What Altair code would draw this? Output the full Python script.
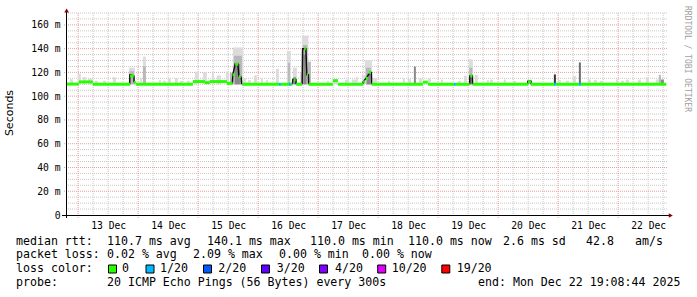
import altair as alt
import pandas as pd

# ---------------- data ----------------
# x = hours since 12 Dec 2025 00:00 ; window ends Mon Dec 22 19:08:44
T_START = 19.146
T_END = 259.146

# median rtt (ms), piecewise constant, with loss class
med_t0 = [19.15, 24.3, 29.9, 44.8, 46.3, 47.1, 69.9, 74.7, 76.7, 83.5, 85.8, 86.8, 88.3,
          89.6, 104.3, 105.1, 108.3, 109.1, 110.2, 111.2, 114.4, 115.5, 116.2, 125.9, 127.9,
          138.0, 139.1, 140.3, 141.4, 161.9, 163.9, 174.3, 175.1, 180.8, 181.8, 203.9, 205.1,
          214.3, 215.1, 224.3, 225.1]
med_t1 = [24.3, 29.9, 44.8, 46.3, 47.1, 69.9, 74.7, 76.7, 83.5, 85.8, 86.7, 88.0, 89.1,
          104.3, 105.1, 108.3, 109.1, 109.7, 111.0, 113.5, 115.1, 116.0, 125.9, 127.9, 137.9,
          138.8, 139.9, 141.2, 161.9, 163.9, 174.3, 175.1, 180.6, 181.7, 203.9, 205.1, 214.3,
          215.1, 224.3, 225.1, 259.15]
med_ms = [110.2, 112.0, 110.0, 117.0, 111.5, 110.0, 112.3, 111.4, 112.3, 110.8, 118.0, 127.0, 116.5,
          110.0, 110.0, 110.0, 110.0, 110.0, 113.7, 110.0, 140.0, 118.0, 110.0, 113.0, 110.0,
          112.0, 115.0, 120.0, 110.0, 111.8, 110.0, 110.0, 110.0, 117.0, 110.0, 112.0, 110.0,
          110.0, 110.0, 110.0, 110.0]
med_loss = ["0", "0", "0", "0", "0", "0", "0", "0", "0", "0", "0", "0", "0",
            "0", "1/20", "0", "1/20", "0", "0", "0", "0", "0", "0", "0", "0",
            "0", "0", "0", "0", "0", "0", "1/20", "0", "0", "0", "0", "0",
            "1/20", "0", "1/20", "0"]

# dark traces through the spikes
trace_id = [1, 1, 1, 1,
            2, 2, 2, 2, 2, 2, 2,
            3, 3, 3, 3,
            4, 4, 4, 4, 4, 4,
            5, 5, 5, 5, 5,
            6, 6, 6, 6,
            7, 7, 7, 7]
trace_t = [44.6, 44.7, 46.3, 46.4,
           85.7, 85.9, 86.8, 87.9, 88.3, 89.2, 89.4,
           109.7, 109.9, 111.1, 111.2,
           113.6, 113.8, 115.1, 115.5, 116.1, 116.2,
           137.9, 138.0, 140.9, 141.3, 141.4,
           180.6, 180.7, 181.7, 181.8,
           203.8, 203.9, 205.1, 205.2]
trace_ms = [110.0, 118.0, 117.0, 111.5,
            110.5, 118.0, 127.0, 127.0, 117.0, 116.0, 110.0,
            110.0, 114.0, 114.0, 110.0,
            110.0, 140.0, 140.0, 118.0, 118.0, 110.0,
            110.0, 112.0, 120.0, 120.0, 110.0,
            110.0, 117.0, 117.0, 110.0,
            110.0, 112.5, 112.5, 110.0]

# smoke (spread of the 20 pings), bars from the median up
smoke_t0 = [20.7, 23.9, 25.9, 27.9, 30.7, 33.9, 37.9, 44.3, 44.7, 48.7, 49.9, 49.9, 56.3, 57.9,
            59.9, 62.7, 64.7, 67.5, 70.7, 73.9, 77.5, 79.5, 83.1, 84.7, 85.9, 86.3, 86.7, 89.9,
            91.9, 94.3, 97.1, 99.1, 103.1, 107.5, 107.9, 109.9, 110.1, 112.7, 113.5, 113.9, 114.1,
            115.9, 123.5, 125.9, 130.7, 133.5, 135.1, 137.5, 138.7, 139.1, 139.5, 141.9, 147.9,
            153.9, 155.9, 158.3, 160.3, 163.9, 169.1, 175.9, 178.3, 180.3, 180.5, 180.7, 182.7,
            187.5, 188.7, 194.3, 197.9, 203.9, 214.3, 215.9, 219.1, 221.9, 224.3, 227.9, 230.3,
            232.7, 239.1, 241.1, 243.1, 247.9, 251.1, 255.1, 256.3, 257.1]
smoke_t1 = [21.9, 25.1, 27.1, 29.5, 31.9, 35.1, 39.1, 46.7, 46.3, 49.5, 51.1, 51.1, 57.1, 59.1,
            61.1, 63.9, 65.9, 68.7, 72.3, 75.5, 78.3, 81.1, 84.3, 85.9, 89.9, 89.5, 88.7, 91.1,
            93.1, 95.5, 97.9, 99.9, 104.3, 109.1, 108.7, 111.5, 111.1, 113.5, 116.1, 115.7, 115.3,
            117.1, 124.3, 127.9, 132.3, 135.5, 135.9, 138.7, 141.5, 141.1, 140.9, 143.5, 148.7,
            154.7, 157.1, 159.1, 161.5, 165.1, 169.9, 177.1, 179.5, 181.9, 181.7, 181.5, 183.9,
            188.3, 189.9, 195.1, 199.1, 205.5, 215.1, 217.1, 220.3, 223.1, 225.1, 229.1, 231.5,
            233.9, 239.9, 242.3, 244.3, 249.1, 252.3, 256.3, 257.1, 258.3]
smoke_top = [114.3, 118.8, 116.0, 115.0, 113.0, 113.0, 116.0, 124.0, 121.0, 115.0, 133.3, 125.0, 113.5, 113.0,
             115.0, 115.0, 113.0, 113.0, 120.6, 120.0, 120.0, 117.5, 120.6, 119.7, 141.0, 134.0, 127.0, 115.3,
             113.5, 117.5, 115.0, 113.5, 123.0, 138.0, 128.0, 124.0, 116.0, 119.7, 151.0, 143.0, 135.0,
             129.0, 113.0, 114.5, 113.8, 114.0, 116.0, 118.0, 130.5, 124.0, 119.0, 115.4, 113.0,
             115.0, 114.5, 125.0, 115.0, 115.0, 114.0, 113.0, 117.0, 131.0, 124.0, 118.0, 118.0,
             113.5, 114.0, 114.0, 113.0, 114.0, 118.3, 113.5, 113.0, 117.0, 128.4, 114.0, 113.5,
             113.0, 114.0, 113.0, 114.0, 114.0, 116.0, 114.0, 118.0, 114.0]
smoke_shade = [1, 1, 1, 1, 1, 1, 1, 1, 2, 1, 1, 2, 1, 1,
               1, 1, 1, 1, 1, 1, 1, 1, 1, 2, 1, 2, 3, 1,
               1, 1, 1, 1, 1, 1, 2, 1, 3, 1, 1, 2, 3,
               2, 1, 1, 1, 1, 1, 1, 1, 2, 3, 1, 1,
               1, 1, 3, 1, 1, 1, 1, 1, 1, 2, 3, 1,
               1, 1, 1, 1, 1, 5, 1, 1, 1, 4, 1, 1,
               1, 1, 1, 1, 1, 1, 1, 2, 3]
SMOKE_BASE = 110.0

# axis ticks
day_label_hours = [36, 60, 84, 108, 132, 156, 180, 204, 228, 252]
y_label_values = [0, 20, 40, 60, 80, 100, 120, 140, 160]
midnight_hours = [24, 48, 72, 96, 120, 144, 168, 192, 216, 240]
six_hour_hours = [h for h in range(30, 259, 6) if h % 24 != 0]
y_minor_values = [v for v in range(5, 171, 5) if v % 20 != 0]

# legend
loss_labels = ["0", "1/20", "2/20", "3/20", "4/20", "10/20", "19/20"]
loss_colors = ["#26ff00", "#00b8ff", "#0059ff", "#5e00ff", "#7e00ff", "#dd00ff", "#ff0000"]
legend_texts = [
    "median rtt:", "110.7 ms avg", "140.1 ms max", "110.0 ms min", "110.0 ms now",
    "2.6 ms sd", "42.8", "am/s",
    "packet loss:", "0.02 % avg", "2.09 % max", "0.00 % min", "0.00 % now",
    "loss color:",
    "probe:", "20 ICMP Echo Pings (56 Bytes) every 300s", "end: Mon Dec 22 19:08:44 2025",
]

# ---------------- layout (pixels) ----------------
PAD_L, PAD_T, W, H = 66, 13, 600, 202
legend_x_abs = [16, 107, 207, 310, 408, 503, 586, 635,
                16, 107, 193, 279, 362,
                16,
                16, 107, 478]
legend_y_abs = [241.5] * 8 + [255.3] * 5 + [269.0] + [282.8] * 3
square_x_abs = [112.5, 150, 207.5, 265.5, 323.5, 381.7, 445.8]
label_x_abs = [122, 160, 218.3, 276.7, 335, 391.7, 456.7]

MONO = "DejaVu Sans Mono"

xs = alt.Scale(domain=[T_START, T_END], nice=False, zero=False)
ys = alt.Scale(domain=[0, 170], nice=False, zero=False)
AX_X = alt.Axis(values=day_label_hours, labelExpr="(floor(datum.value/24)+12) + ' Dec'",
                domain=False, ticks=False, grid=False, labelFont=MONO, labelFontSize=9.7,
                labelColor="#000", labelPadding=5, title=None)
AX_Y = alt.Axis(values=y_label_values, labelExpr="datum.value == 0 ? '0' : datum.value + ' m'",
                domain=False, ticks=False, grid=False, labelFont=MONO, labelFontSize=9.7,
                labelColor="#000", labelPadding=6, title=None)


def X(field):
    return alt.X(field, scale=xs, axis=AX_X)


def Y(field):
    return alt.Y(field, scale=ys, axis=AX_Y)


# ---------------- grid ----------------
minor_v = alt.Chart(pd.DataFrame({"h": six_hour_hours})).mark_rule(
    color="#c8c8c8", strokeDash=[1, 1], strokeWidth=1
).encode(x=X("h:Q"))

major_v = alt.Chart(pd.DataFrame({"h": midnight_hours})).mark_rule(
    color="#e8a0a0", strokeDash=[1, 1], strokeWidth=1
).encode(x=X("h:Q"), y=alt.value(0), y2=alt.value(H + 3))

minor_h = alt.Chart(pd.DataFrame({"v": y_minor_values})).mark_rule(
    color="#c8c8c8", strokeDash=[1, 1], strokeWidth=1
).encode(y=Y("v:Q"), x=alt.value(0), x2=alt.value(W + 2))

major_h = alt.Chart(pd.DataFrame({"v": y_label_values[1:]})).mark_rule(
    color="#e8a0a0", strokeDash=[1, 1], strokeWidth=1
).encode(y=Y("v:Q"), x=alt.value(-2), x2=alt.value(W + 2))

# ---------------- smoke ----------------
smoke_df = pd.DataFrame({
    "t0": smoke_t0, "t1": smoke_t1, "top": smoke_top, "shade": smoke_shade,
    "base": [SMOKE_BASE] * len(smoke_t0),
}).sort_values("shade", kind="stable")

smoke = alt.Chart(smoke_df).mark_rect(strokeWidth=0).encode(
    x=X("t0:Q"), x2="t1:Q",
    y=Y("base:Q"), y2="top:Q",
    color=alt.Color("shade:O", scale=alt.Scale(
        domain=[1, 2, 3, 4, 5], range=["#dcdcdc", "#b8b8b8", "#8a8a8a", "#6e6e6e", "#333333"]),
        legend=None),
)

# ---------------- traces & median ----------------
trace = alt.Chart(pd.DataFrame({"id": trace_id, "t": trace_t, "ms": trace_ms})).mark_line(
    color="#111111", strokeWidth=1.5, interpolate="linear"
).encode(x=X("t:Q"), y=Y("ms:Q"), detail="id:N", order="t:Q")

median = alt.Chart(pd.DataFrame({"t0": med_t0, "t1": med_t1, "ms": med_ms, "loss": med_loss})).mark_rule(
    strokeWidth=3
).encode(
    x=X("t0:Q"), x2="t1:Q", y=Y("ms:Q"),
    color=alt.Color("loss:N", scale=alt.Scale(domain=loss_labels, range=loss_colors), legend=None),
)

# ---------------- axis lines & arrows ----------------
one = pd.DataFrame({"a": [0]})
yaxis_line = alt.Chart(one).mark_rule(color="#000", strokeWidth=1).encode(
    x=alt.value(0.5), y=alt.value(-1), y2=alt.value(H + 3))
xaxis_line = alt.Chart(one).mark_rule(color="#000", strokeWidth=1).encode(
    x=alt.value(-4), x2=alt.value(W + 3), y=alt.value(H + 0.5))
arrow_up = alt.Chart(one).mark_point(
    shape="triangle-up", filled=True, color="#8b0000", size=22, opacity=1
).encode(x=alt.value(0.6), y=alt.value(-2.5))
arrow_right = alt.Chart(one).mark_point(
    shape="triangle-right", filled=True, color="#8b0000", size=22, opacity=1
).encode(x=alt.value(W + 4.8), y=alt.value(H + 0.5))

# ---------------- texts ----------------
ytitle = alt.Chart(pd.DataFrame({"t": ["Seconds"]})).mark_text(
    angle=270, font="DejaVu Sans", fontSize=11, color="#000", align="center", baseline="middle"
).encode(x=alt.value(10 - PAD_L), y=alt.value(113 - PAD_T), text="t:N")

credit = alt.Chart(pd.DataFrame({"t": ["RRDTOOL / TOBI OETIKER"]})).mark_text(
    angle=90, font=MONO, fontSize=8, color="#a0a0a0", align="center", baseline="middle"
).encode(x=alt.value(686.5 - PAD_L), y=alt.value(59 - PAD_T), text="t:N")

leg_df = pd.DataFrame({
    "t": legend_texts,
    "px": [x - PAD_L for x in legend_x_abs],
    "py": [y - PAD_T for y in legend_y_abs],
})
legend_text = alt.Chart(leg_df).mark_text(
    font=MONO, fontSize=11.6, color="#000", align="left", baseline="middle"
).encode(x=alt.X("px:Q", scale=None), y=alt.Y("py:Q", scale=None), text="t:N")

sq_df = pd.DataFrame({
    "loss": loss_labels,
    "px": [x - PAD_L for x in square_x_abs],
    "lx": [x - PAD_L for x in label_x_abs],
    "py": [269.0 - PAD_T] * len(loss_labels),
})
squares = alt.Chart(sq_df).mark_square(
    size=64, filled=True, stroke="#000", strokeWidth=1, opacity=1
).encode(
    x=alt.X("px:Q", scale=None), y=alt.Y("py:Q", scale=None),
    fill=alt.Fill("loss:N", scale=alt.Scale(domain=loss_labels, range=loss_colors), legend=None),
)
sq_labels = alt.Chart(sq_df).mark_text(
    font=MONO, fontSize=11.6, color="#000", align="left", baseline="middle"
).encode(x=alt.X("lx:Q", scale=None), y=alt.Y("py:Q", scale=None), text="loss:N")

chart = alt.layer(
    minor_v, minor_h, major_v, major_h, smoke, trace, median,
    yaxis_line, xaxis_line, arrow_up, arrow_right,
    ytitle, credit, legend_text, squares, sq_labels,
).resolve_scale(color="independent").properties(
    width=W, height=H,
    padding={"left": PAD_L, "top": PAD_T, "right": 697 - PAD_L - W, "bottom": 297 - PAD_T - H},
    autosize=alt.AutoSizeParams(type="none"),
    background="#ffffff",
).configure_view(stroke=None)

chart.save("out.html", embed_options={"renderer": "svg", "actions": False})
